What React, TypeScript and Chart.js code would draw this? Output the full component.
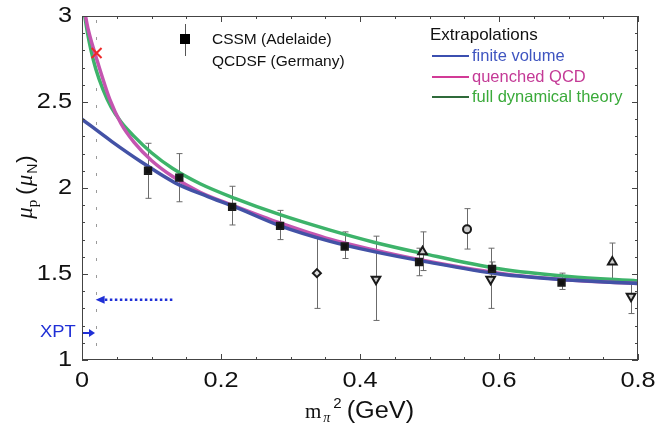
import React, { useEffect, useRef } from "react";
import { Chart, registerables } from "chart.js";
Chart.register(...registerables);

// ---- data ----
const xTicks = [0, 0.2, 0.4, 0.6, 0.8];
const yTicks = [1, 1.5, 2, 2.5, 3];

// CSSM (Adelaide) squares
const cssmX = [0.095, 0.14, 0.216, 0.285, 0.378, 0.485, 0.59, 0.69];
const cssmY = [2.1, 2.06, 1.89, 1.78, 1.66, 1.57, 1.53, 1.45];
const cssmLo = [1.94, 1.92, 1.785, 1.7, 1.59, 1.49, 1.5, 1.41];
const cssmHi = [2.26, 2.2, 2.01, 1.87, 1.745, 1.65, 1.57, 1.505];

// QCDSF (Germany) open markers
const diamondX = [0.338];
const diamondY = [1.505];
const diamondLo = [1.3];
const diamondHi = [1.71];

const invTriX = [0.423, 0.588, 0.79];
const invTriY = [1.47, 1.47, 1.37];
const invTriLo = [1.23, 1.3, 1.27];
const invTriHi = [1.72, 1.65, 1.45];

const triX = [0.49, 0.763];
const triY = [1.63, 1.57];
const triLo = [1.52, 1.465];
const triHi = [1.745, 1.68];

const circX = [0.554];
const circY = [1.76];
const circLo = [1.645];
const circHi = [1.88];

// physical point
const physX = [0.021];
const physY = [2.785];

// extrapolation curves
const greenX = [0.004, 0.008, 0.013, 0.02, 0.03, 0.042, 0.056, 0.075, 0.1, 0.13, 0.17, 0.22, 0.285, 0.357, 0.42, 0.49, 0.6, 0.7, 0.8];
const greenY = [3.0, 2.9, 2.8, 2.69, 2.575, 2.47, 2.385, 2.3, 2.205, 2.115, 2.025, 1.94, 1.845, 1.755, 1.685, 1.62, 1.53, 1.485, 1.46];
const pinkX = [0.005, 0.009, 0.014, 0.02, 0.028, 0.04, 0.056, 0.075, 0.1, 0.13, 0.17, 0.22, 0.285, 0.357, 0.42, 0.49, 0.6, 0.7, 0.8];
const pinkY = [3.0, 2.92, 2.845, 2.765, 2.66, 2.515, 2.375, 2.265, 2.16, 2.068, 1.975, 1.895, 1.797, 1.702, 1.64, 1.58, 1.505, 1.465, 1.445];
const blueX = [0, 0.043, 0.086, 0.134, 0.181, 0.22, 0.285, 0.357, 0.42, 0.49, 0.6, 0.7, 0.8];
const blueY = [2.4, 2.27, 2.15, 2.03, 1.95, 1.89, 1.78, 1.69, 1.63, 1.575, 1.5, 1.465, 1.445];

// annotations
const chiLineX = 0.0196;
const arrowY = 1.35;
const arrowX0 = 0.13;
const xptY = 1.157;

const BLUE = "#4352a6";
const PINK = "#c455b0";
const GREEN = "#3db36a";
const SANS = "'Liberation Sans', Arial, sans-serif";
const SERIF = "'Liberation Serif', 'Times New Roman', serif";

const pts = (xs: number[], ys: number[]) => xs.map((x, i) => ({ x, y: ys[i] }));

const errSets = [
  { xs: cssmX, lo: cssmLo, hi: cssmHi },
  { xs: diamondX, lo: diamondLo, hi: diamondHi },
  { xs: invTriX, lo: invTriLo, hi: invTriHi },
  { xs: triX, lo: triLo, hi: triHi },
  { xs: circX, lo: circLo, hi: circHi },
];

function stretchText(ctx: CanvasRenderingContext2D, t: string, x: number, y: number, sx: number, align: "left" | "center" | "right") {
  const w = ctx.measureText(t).width * sx;
  let left = x;
  if (align === "center") left = x - w / 2;
  if (align === "right") left = x - w;
  ctx.save();
  ctx.translate(left, y);
  ctx.scale(sx, 1);
  ctx.textAlign = "left";
  ctx.fillText(t, 0, 0);
  ctx.restore();
  return w;
}

export default function App() {
  const ref = useRef<HTMLCanvasElement>(null);
  useEffect(() => {
    const canvas = ref.current!;

    const errPlugin = {
      id: "errbars",
      beforeDatasetsDraw(chart: any) {
        const { ctx, scales } = chart;
        const xs = scales.x, ys = scales.y;
        ctx.save();
        ctx.strokeStyle = "#6b6b6b";
        ctx.lineWidth = 1;
        errSets.forEach((s) => {
          s.xs.forEach((x, i) => {
            const px = Math.round(xs.getPixelForValue(x)) + 0.5;
            const p1 = ys.getPixelForValue(s.lo[i]);
            const p2 = ys.getPixelForValue(s.hi[i]);
            ctx.beginPath();
            ctx.moveTo(px, p1); ctx.lineTo(px, p2);
            ctx.moveTo(px - 3, p1); ctx.lineTo(px + 3, p1);
            ctx.moveTo(px - 3, p2); ctx.lineTo(px + 3, p2);
            ctx.stroke();
          });
        });
        const vx = Math.round(xs.getPixelForValue(chiLineX)) + 0.5;
        ctx.strokeStyle = "#9a9a9a";
        ctx.setLineDash([3, 14]);
        ctx.beginPath();
        ctx.moveTo(vx, ys.getPixelForValue(3) + 4);
        ctx.lineTo(vx, ys.getPixelForValue(1));
        ctx.stroke();
        ctx.setLineDash([]);
        ctx.restore();
      },
    };

    const decoPlugin = {
      id: "deco",
      afterDraw(chart: any) {
        const { ctx, scales, chartArea: a } = chart;
        const xs = scales.x, ys = scales.y;
        ctx.save();
        // frame
        ctx.strokeStyle = "#444";
        ctx.lineWidth = 1;
        ctx.strokeRect(a.left + 0.5, a.top + 0.5, a.right - a.left - 1, a.bottom - a.top - 1);
        // ticks
        ctx.beginPath();
        for (let k = 0; k <= 16; k++) {
          const v = k * 0.05;
          const px = Math.round(xs.getPixelForValue(v)) + 0.5;
          const len = k % 4 === 0 ? 6 : 3;
          ctx.moveTo(px, a.bottom); ctx.lineTo(px, a.bottom - len);
          ctx.moveTo(px, a.top); ctx.lineTo(px, a.top + len);
        }
        for (let k = 0; k <= 20; k++) {
          const v = 1 + k * 0.1;
          const py = Math.round(ys.getPixelForValue(v)) + 0.5;
          const len = k % 5 === 0 ? 6 : 3;
          ctx.moveTo(a.left, py); ctx.lineTo(a.left + len, py);
          ctx.moveTo(a.right, py); ctx.lineTo(a.right - len, py);
        }
        ctx.stroke();

        // tick labels
        ctx.fillStyle = "#111";
        ctx.font = `22px ${SANS}`;
        ctx.textBaseline = "alphabetic";
        xTicks.forEach((v) => {
          stretchText(ctx, String(v), xs.getPixelForValue(v), a.bottom + 27, 1.15, "center");
        });
        ctx.textBaseline = "middle";
        yTicks.forEach((v) => {
          stretchText(ctx, String(v), a.left - 10, ys.getPixelForValue(v), 1.15, "right");
        });

        // blue dotted arrow
        const ay = ys.getPixelForValue(arrowY);
        const ax0 = xs.getPixelForValue(arrowX0);
        const ax1 = xs.getPixelForValue(chiLineX);
        ctx.strokeStyle = "#1f2fd6";
        ctx.fillStyle = "#1f2fd6";
        ctx.lineWidth = 2.5;
        ctx.setLineDash([2.5, 2.5]);
        ctx.beginPath();
        ctx.moveTo(ax0, ay); ctx.lineTo(ax1 + 8, ay);
        ctx.stroke();
        ctx.setLineDash([]);
        ctx.beginPath();
        ctx.moveTo(ax1, ay); ctx.lineTo(ax1 + 9, ay - 4); ctx.lineTo(ax1 + 9, ay + 4); ctx.closePath();
        ctx.fill();

        // XPT arrow
        const xy = ys.getPixelForValue(xptY);
        ctx.lineWidth = 2;
        ctx.beginPath();
        ctx.moveTo(a.left + 1, xy); ctx.lineTo(a.left + 8, xy);
        ctx.stroke();
        ctx.beginPath();
        ctx.moveTo(a.left + 13, xy); ctx.lineTo(a.left + 7, xy - 4); ctx.lineTo(a.left + 7, xy + 4); ctx.closePath();
        ctx.fill();
        ctx.font = `16px ${SANS}`;
        ctx.textBaseline = "middle";
        stretchText(ctx, "XPT", 40, xy, 1.15, "left");

        // legend 1
        ctx.strokeStyle = "#555";
        ctx.lineWidth = 1;
        ctx.beginPath();
        ctx.moveTo(185.5, 24); ctx.lineTo(185.5, 56);
        ctx.stroke();
        ctx.fillStyle = "#000";
        ctx.fillRect(180, 34, 10, 10);
        ctx.font = `15.5px ${SANS}`;
        ctx.fillStyle = "#111";
        ctx.textAlign = "left";
        ctx.fillText("CSSM (Adelaide)", 212, 40);
        ctx.fillText("QCDSF (Germany)", 212, 62);

        // legend 2
        ctx.font = `17px ${SANS}`;
        ctx.fillText("Extrapolations", 430, 35);
        const rows = [
          { y: 56, line: "#3b4fb0", txt: "#3f55c0", label: "finite volume" },
          { y: 77, line: "#d23a96", txt: "#c43a96", label: "quenched QCD" },
          { y: 97, line: "#2f6a3a", txt: "#3aaa3a", label: "full dynamical theory" },
        ];
        ctx.font = `16.5px ${SANS}`;
        ctx.lineWidth = 2;
        rows.forEach((r) => {
          ctx.strokeStyle = r.line;
          ctx.beginPath();
          ctx.moveTo(432, r.y); ctx.lineTo(469, r.y);
          ctx.stroke();
          ctx.fillStyle = r.txt;
          ctx.fillText(r.label, 472, r.y);
        });

        // x title: m_pi^2 (GeV)
        ctx.fillStyle = "#111";
        ctx.textBaseline = "alphabetic";
        let x = 305;
        const by = 418;
        ctx.font = `21px ${SERIF}`;
        ctx.fillText("m", x, by); x += ctx.measureText("m").width + 2;
        ctx.font = `italic 14px ${SERIF}`;
        ctx.fillText("\u03c0", x, by + 4); x += ctx.measureText("\u03c0").width + 3;
        ctx.font = `15px ${SANS}`;
        ctx.fillText("2", x, by - 10); x += ctx.measureText("2").width + 5;
        ctx.font = `23px ${SANS}`;
        stretchText(ctx, "(GeV)", x, by, 1.1, "left");

        // y title: mu_p (mu_N), rotated
        ctx.save();
        ctx.translate(32, 187);
        ctx.rotate(-Math.PI / 2);
        const parts = [
          { t: "\u03bc", f: `italic 23px ${SERIF}`, dy: 0, gap: 0 },
          { t: "p", f: `15px ${SERIF}`, dy: 5, gap: 5 },
          { t: "(", f: `22px ${SANS}`, dy: 0, gap: 1 },
          { t: "\u03bc", f: `italic 23px ${SERIF}`, dy: 0, gap: 1 },
          { t: "N", f: `14px ${SANS}`, dy: 5, gap: 1 },
          { t: ")", f: `22px ${SANS}`, dy: 0, gap: 0 },
        ];
        let total = 0;
        parts.forEach((p) => { ctx.font = p.f; total += ctx.measureText(p.t).width + p.gap; });
        let cx = -total / 2;
        parts.forEach((p) => {
          ctx.font = p.f;
          ctx.fillText(p.t, cx, p.dy);
          cx += ctx.measureText(p.t).width + p.gap;
        });
        ctx.restore();

        ctx.restore();
      },
    };

    const curve = (xs: number[], ys: number[], color: string) => ({
      data: pts(xs, ys),
      showLine: true,
      borderColor: color,
      borderWidth: 3.5,
      pointRadius: 0,
      cubicInterpolationMode: "monotone" as const,
      order: 10,
    });
    const marker = (xs: number[], ys: number[], style: any, rot: number, fill: string, r: number) => ({
      data: pts(xs, ys),
      showLine: false,
      pointStyle: style,
      rotation: rot,
      pointRadius: r,
      backgroundColor: fill,
      borderColor: "#1a1a1a",
      borderWidth: 2,
      order: 1,
    });

    const chart = new Chart(canvas, {
      type: "scatter",
      data: {
        datasets: [
          curve(blueX, blueY, BLUE),
          curve(pinkX, pinkY, PINK),
          curve(greenX, greenY, GREEN),
          marker(cssmX, cssmY, "rect", 0, "#111", 4.5),
          marker(diamondX, diamondY, "rectRot", 0, "#ddd", 4),
          marker(invTriX, invTriY, "triangle", 180, "#ccc", 5),
          marker(triX, triY, "triangle", 0, "#ccc", 5),
          marker(circX, circY, "circle", 0, "#ccc", 4),
          {
            data: pts(physX, physY),
            showLine: false,
            pointStyle: "crossRot",
            pointRadius: 7,
            borderColor: "#ee2a2a",
            borderWidth: 2,
            order: 0,
          } as any,
        ] as any,
      },
      options: {
        responsive: false,
        animation: false,
        devicePixelRatio: 1,
        layout: { padding: { top: 16, right: 19, left: 0, bottom: 0 } },
        plugins: { legend: { display: false }, tooltip: { enabled: false } },
        scales: {
          x: {
            type: "linear",
            min: 0,
            max: 0.8,
            afterBuildTicks: (s: any) => { s.ticks = xTicks.map((v) => ({ value: v })); },
            afterFit: (s: any) => { s.height = 67; },
            ticks: { display: false },
            grid: { display: false, drawTicks: false },
            border: { display: false },
          },
          y: {
            type: "linear",
            min: 1,
            max: 3,
            afterBuildTicks: (s: any) => { s.ticks = yTicks.map((v) => ({ value: v })); },
            afterFit: (s: any) => { s.width = 82; },
            ticks: { display: false },
            grid: { display: false, drawTicks: false },
            border: { display: false },
          },
        },
      },
      plugins: [errPlugin, decoPlugin],
    } as any);
    return () => chart.destroy();
  }, []);
  return (
    <div style={{ position: "absolute", left: 0, top: 0, width: 657, height: 427, background: "#fff" }}>
      <canvas ref={ref} width={657} height={427} style={{ display: "block" }} />
    </div>
  );
}
